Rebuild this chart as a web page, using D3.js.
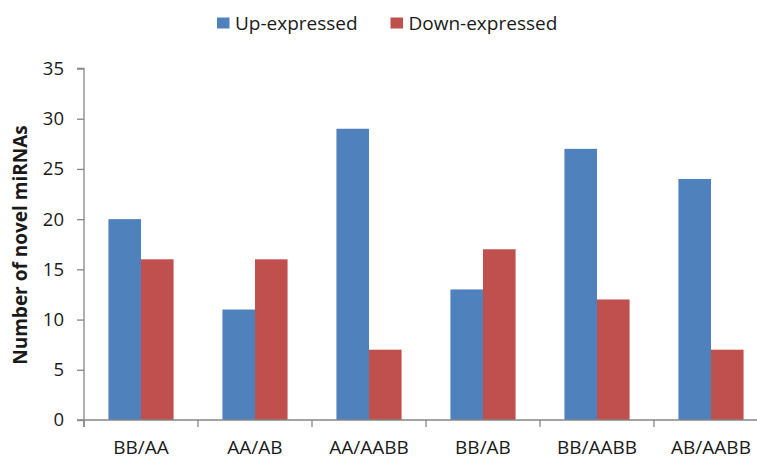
<!DOCTYPE html>
<html>
<head>
<meta charset="utf-8">
<script src="https://cdn.jsdelivr.net/npm/d3@7"></script>
<style>
  html, body { margin: 0; padding: 0; background: #fff; }
  svg { display: block; }
  text { font-family: "Open Sans", "Noto Sans", sans-serif; fill: #1a1a1a; }
</style>
</head>
<body>
<svg id="chart" width="757" height="459"></svg>
<script>
// Novel miRNAs differentially expressed between genotype comparisons
const categories = ["BB/AA", "AA/AB", "AA/AABB", "BB/AB", "BB/AABB", "AB/AABB"];
const upExpressed = [20, 11, 29, 13, 27, 24];
const downExpressed = [16, 16, 7, 17, 12, 7];
const seriesNames = ["Up-expressed", "Down-expressed"];
const seriesColors = ["#4F81BD", "#C0504D"];
const yTicks = [0, 5, 10, 15, 20, 25, 30, 35];

const svg = d3.select("#chart");
const W = 757, H = 459;
const margin = { left: 84, top: 68.5, bottom: 39 };
const plotRight = 768; // last category extends past the frame edge
const y0 = H - margin.bottom;

const x = d3.scaleBand().domain(categories).range([margin.left, plotRight]).paddingInner(0).paddingOuter(0);
const inner = d3.scaleBand().domain(seriesNames).range([0, x.bandwidth()]).paddingInner(0).paddingOuter(0.75);
const y = d3.scaleLinear().domain([0, 35]).range([y0, margin.top]);

const axisColor = "#868686";

// Bars
const rows = categories.map((c, i) => ({ cat: c, vals: [upExpressed[i], downExpressed[i]] }));
const groups = svg.append("g").selectAll("g").data(rows).join("g")
  .attr("transform", d => `translate(${x(d.cat)},0)`);
groups.selectAll("rect").data(d => d.vals.map((v, k) => ({ v, k })))
  .join("rect")
  .attr("x", d => inner(seriesNames[d.k]))
  .attr("width", inner.bandwidth())
  .attr("y", d => y(d.v))
  .attr("height", d => y0 - y(d.v))
  .attr("fill", d => seriesColors[d.k]);

// Y axis
const yAxis = d3.axisLeft(y).tickValues(yTicks).tickSize(7).tickPadding(13).tickFormat(d3.format("d"));
const gy = svg.append("g").attr("transform", `translate(${margin.left},0)`).call(yAxis);
gy.select(".domain").attr("stroke", axisColor).attr("stroke-width", 1.3)
  .attr("d", `M-7,${margin.top}H0V${y0 + 7}`);
gy.selectAll(".tick line").attr("stroke", axisColor).attr("stroke-width", 1.3);
gy.selectAll(".tick text").attr("font-size", 18.5).attr("fill", "#1a1a1a")
  .attr("font-family", "'Open Sans', sans-serif");

// X axis: ticks at category boundaries
const gx = svg.append("g").attr("transform", `translate(0,${y0})`);
gx.append("line").attr("x1", margin.left - 7).attr("x2", plotRight)
  .attr("stroke", axisColor).attr("stroke-width", 1.3);
const bounds = categories.map(c => x(c)).concat([x(categories[categories.length - 1]) + x.bandwidth()]);
gx.selectAll("line.b").data(bounds).join("line").attr("class", "b")
  .attr("x1", d => d).attr("x2", d => d).attr("y1", 0).attr("y2", 7)
  .attr("stroke", axisColor).attr("stroke-width", 1.3);
gx.selectAll("text").data(categories).join("text")
  .attr("x", d => x(d) + x.bandwidth() / 2)
  .attr("y", 33.5)
  .attr("text-anchor", "middle")
  .attr("font-size", 19)
  .text(d => d);

// Y axis title
svg.append("text")
  .attr("transform", `translate(27,245) rotate(-90)`)
  .attr("text-anchor", "middle")
  .attr("font-size", 19)
  .attr("font-weight", "bold")
  .text("Number of novel miRNAs");

// Legend
const legendItems = [{ x: 217, i: 0 }, { x: 390.5, i: 1 }];
const lg = svg.append("g").selectAll("g").data(legendItems).join("g")
  .attr("transform", d => `translate(${d.x},17.5)`);
lg.append("rect").attr("width", 12.5).attr("height", 11).attr("fill", d => seriesColors[d.i]);
lg.append("text").attr("x", 18).attr("y", 12.5).attr("font-size", 19)
  .text(d => seriesNames[d.i]);
</script>
</body>
</html>
